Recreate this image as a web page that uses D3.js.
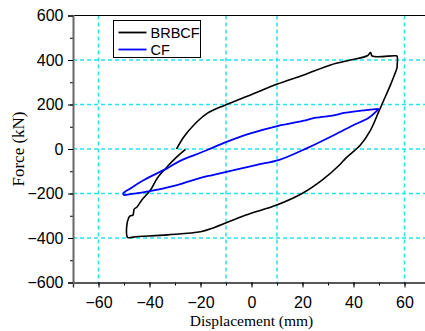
<!DOCTYPE html>
<html>
<head>
<meta charset="utf-8">
<script src="https://cdn.jsdelivr.net/npm/d3@7"></script>
<style>
  body { margin: 0; background: #fff; }
  svg { display: block; }
</style>
</head>
<body>
<div id="chart"></div>
<script>
// BRBCF hysteresis loop (displacement mm, force kN), in drawing order
const brbcfDisp = [-29.4, -26.5, -22.6, -17.4, -10.2, -0.4, 10.1, 20.5, 31, 38.8, 45.4, 46.7, 47.3, 56.5, 57.1, 57.1, 57.1,
  54.5, 51.9, 49.9, 46.7, 42.7, 36.9, 34.5, 27.8, 20, 9.9, -2.2, -15.3, -20, -33, -46.3, -48.2, -48.6,
  -49, -48.2, -47.5, -46.5, -46, -45, -43, -39.6, -36.9, -33, -29.5, -25.9];
const brbcfForce = [0, 55, 108, 160, 198, 243, 292, 333, 378, 400, 419, 433, 418, 419, 417, 372, 367,
  288, 220, 168, 85, 18, -42, -72, -139, -199, -252, -297, -356, -372, -386, -396, -399, -398,
  -355, -310, -300, -297, -270, -262, -229, -184, -130, -79, -38, -2];

// CF hysteresis loop
const cfDisp = [49.9, 46, 40.1, 31, 22, 10.9, 1.7, -15.3, -20, -29.2, -41, -47.5, -50, -50.3,
  -47.5, -42.2, -33.1, -27.8, -20, -16.7, -9.5, -0.4, 10.5, 20.5, 24, 31, 37, 43, 49.9];
const cfForce = [180, 140, 108, 55, 5, -49, -72, -117, -130, -162, -192, -203, -207, -200,
  -177, -139, -87, -52, -17, -1, 33, 70, 104, 127, 138, 149, 163, 172, 180];

const xTicks = [-60, -40, -20, 0, 20, 40, 60];
const yTicks = [-600, -400, -200, 0, 200, 400, 600];
const xGrid = [-60, -10, 10, 60];
const yGrid = [-400, -200, 0, 200, 400];
const legendLabels = ['BRBCF', 'CF'];

const W = 425, H = 331;
const margin = {top: 15.5, left: 73, bottom: 48.5};
const plotW = 357;
const plotH = H - margin.top - margin.bottom;

const svg = d3.select('#chart').append('svg')
  .attr('width', W)
  .attr('height', H);

const g = svg.append('g')
  .attr('transform', `translate(${margin.left},${margin.top})`);

const x = d3.scaleLinear().domain([-70, 70]).range([0, plotW]);
const y = d3.scaleLinear().domain([-600, 600]).range([plotH, 0]);

// grid
g.selectAll('.gx').data(xGrid).enter().append('line')
  .attr('x1', d => x(d)).attr('x2', d => x(d))
  .attr('y1', 0).attr('y2', plotH)
  .attr('stroke', '#22e6ee').attr('stroke-width', 1.5)
  .attr('stroke-dasharray', '4,3');
g.selectAll('.gy').data(yGrid).enter().append('line')
  .attr('x1', 0).attr('x2', plotW)
  .attr('y1', d => y(d)).attr('y2', d => y(d))
  .attr('stroke', '#22e6ee').attr('stroke-width', 1.5)
  .attr('stroke-dasharray', '4,3');

// curves
const line = d3.line()
  .x(d => x(d[0]))
  .y(d => y(d[1]))
  .curve(d3.curveCatmullRom.alpha(0.5));

g.append('path')
  .datum(brbcfDisp.map((d, i) => [d, brbcfForce[i]]))
  .attr('fill', 'none')
  .attr('stroke', '#000')
  .attr('stroke-width', 1.6)
  .attr('stroke-linejoin', 'round')
  .attr('d', line);

g.append('path')
  .datum(cfDisp.map((d, i) => [d, cfForce[i]]))
  .attr('fill', 'none')
  .attr('stroke', '#0000ff')
  .attr('stroke-width', 1.8)
  .attr('stroke-linejoin', 'round')
  .attr('d', line);

// top border
g.append('line')
  .attr('x1', 0).attr('x2', plotW)
  .attr('y1', 0).attr('y2', 0)
  .attr('stroke', '#000').attr('stroke-width', 1);

// axes
const tickFont = '"Liberation Sans", Arial, sans-serif';

const xMinor = g.append('g')
  .attr('transform', `translate(0,${plotH})`)
  .call(d3.axisBottom(x).tickValues(d3.range(-70, 71, 10)).tickSize(3).tickFormat(''));
xMinor.select('.domain').remove();

const xAxis = g.append('g')
  .attr('transform', `translate(0,${plotH})`)
  .call(d3.axisBottom(x).tickValues(xTicks).tickSize(5).tickPadding(9));
xAxis.select('.domain').attr('stroke', '#222').attr('stroke-width', 1.3);
xAxis.selectAll('text').style('font-family', tickFont).style('font-size', '16px').attr('fill', '#000');

const yMinor = g.append('g')
  .call(d3.axisLeft(y).tickValues(d3.range(-600, 601, 100)).tickSize(3).tickFormat(''));
yMinor.select('.domain').remove();

const yAxis = g.append('g')
  .call(d3.axisLeft(y).tickValues(yTicks).tickSize(5).tickPadding(4.5));
yAxis.select('.domain').attr('stroke', '#666').attr('stroke-width', 2);
yAxis.selectAll('text').style('font-family', tickFont).style('font-size', '16px').attr('fill', '#000');

// axis titles
svg.append('text')
  .attr('x', margin.left + x(0))
  .attr('y', 326)
  .attr('text-anchor', 'middle')
  .style('font-family', '"Liberation Serif", "Times New Roman", serif')
  .style('font-size', '15.5px')
  .text('Displacement (mm)');

svg.append('text')
  .attr('transform', `translate(24,${margin.top + plotH / 2}) rotate(-90)`)
  .attr('text-anchor', 'middle')
  .style('font-family', '"Liberation Serif", "Times New Roman", serif')
  .style('font-size', '17px')
  .text('Force (kN)');

// legend
const legend = svg.append('g').attr('transform', 'translate(113.5,20.5)');
legend.append('rect')
  .attr('width', 87).attr('height', 37)
  .attr('fill', '#fff').attr('stroke', '#000').attr('stroke-width', 1);
const legendColors = ['#000', '#0000ff'];
legendLabels.forEach((lab, i) => {
  const ly = 12 + i * 17;
  legend.append('line')
    .attr('x1', 5).attr('x2', 33)
    .attr('y1', ly).attr('y2', ly)
    .attr('stroke', legendColors[i]).attr('stroke-width', 1.8);
  legend.append('text')
    .attr('x', 37).attr('y', ly + 5)
    .style('font-family', tickFont)
    .style('font-size', '14.5px')
    .text(lab);
});
</script>
</body>
</html>
